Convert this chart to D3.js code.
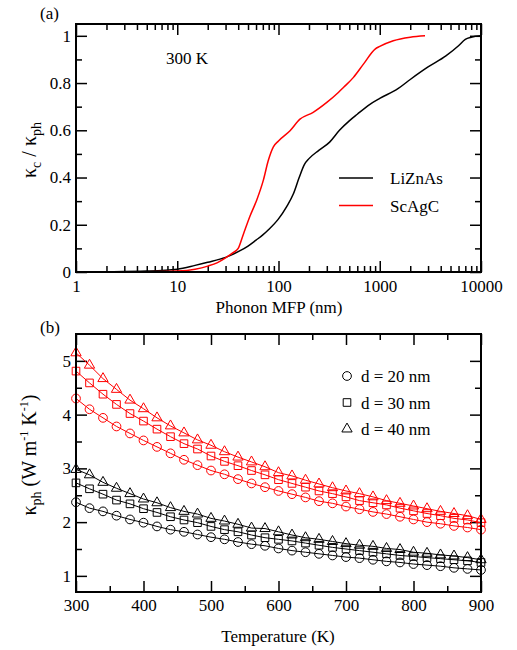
<!DOCTYPE html>
<html>
<head>
<meta charset="utf-8">
<script src="https://cdn.jsdelivr.net/npm/d3@7"></script>
<style>
  body { margin: 0; background: #fff; }
  svg text { font-family: "Liberation Serif", "Times New Roman", "DejaVu Serif", serif; fill: #000; }
</style>
</head>
<body>
<section></section>
<script>
// panel (a): cumulative kappa vs phonon MFP at 300 K
const mfpLi = [1, 2, 5, 10, 15, 20, 30, 40, 50, 60, 70, 80, 100, 120, 140, 160, 180, 200, 250, 320, 400, 500, 600, 800, 1000, 1500, 2000, 3000, 4500, 6000, 7000, 8000, 10000];
const kapLi = [0, 0.001, 0.004, 0.012, 0.028, 0.041, 0.062, 0.086, 0.11, 0.135, 0.157, 0.18, 0.225, 0.276, 0.33, 0.4, 0.455, 0.48, 0.515, 0.55, 0.6, 0.64, 0.668, 0.71, 0.735, 0.775, 0.815, 0.868, 0.915, 0.958, 0.985, 0.994, 1.0];
const mfpSc = [1, 5, 10, 15, 20, 25, 30, 35, 40, 45, 52, 61, 71, 79, 89, 100, 130, 163, 220, 300, 390, 440, 550, 690, 900, 1000, 1360, 2000, 2800];
const kapSc = [0, 0.001, 0.004, 0.012, 0.025, 0.04, 0.06, 0.08, 0.1, 0.16, 0.234, 0.305, 0.39, 0.47, 0.53, 0.555, 0.598, 0.647, 0.676, 0.718, 0.76, 0.782, 0.824, 0.88, 0.944, 0.955, 0.979, 0.994, 1.0];
const materials = ["LiZnAs", "ScAgC"];

// panel (b): kappa_ph vs temperature for three film thicknesses
const temps = d3.range(300, 901, 20);
const thick = ["d = 20 nm", "d = 30 nm", "d = 40 nm"];
const sc20 = [4.30, 4.10, 3.94, 3.78, 3.65, 3.52, 3.40, 3.28, 3.16, 3.06, 2.96, 2.89, 2.80, 2.72, 2.65, 2.58, 2.52, 2.46, 2.39, 2.35, 2.29, 2.24, 2.19, 2.15, 2.10, 2.05, 2.00, 1.97, 1.93, 1.90, 1.86];
const sc30 = [4.81, 4.59, 4.38, 4.19, 4.02, 3.88, 3.73, 3.59, 3.46, 3.36, 3.23, 3.13, 3.05, 2.96, 2.88, 2.79, 2.72, 2.65, 2.58, 2.53, 2.47, 2.40, 2.36, 2.32, 2.26, 2.21, 2.16, 2.12, 2.07, 2.04, 1.99];
const sc40 = [5.15, 4.92, 4.67, 4.47, 4.27, 4.11, 3.94, 3.79, 3.66, 3.53, 3.43, 3.31, 3.21, 3.12, 3.03, 2.92, 2.86, 2.78, 2.71, 2.64, 2.58, 2.53, 2.47, 2.40, 2.35, 2.30, 2.25, 2.20, 2.16, 2.12, 2.05];
const li20 = [2.37, 2.26, 2.20, 2.12, 2.05, 1.99, 1.92, 1.86, 1.82, 1.77, 1.72, 1.68, 1.63, 1.59, 1.56, 1.51, 1.47, 1.44, 1.41, 1.38, 1.35, 1.33, 1.30, 1.27, 1.25, 1.22, 1.20, 1.18, 1.15, 1.13, 1.11];
const li30 = [2.73, 2.62, 2.52, 2.41, 2.34, 2.25, 2.18, 2.10, 2.04, 1.99, 1.92, 1.86, 1.82, 1.76, 1.71, 1.68, 1.65, 1.61, 1.57, 1.53, 1.50, 1.47, 1.44, 1.41, 1.38, 1.36, 1.34, 1.32, 1.30, 1.28, 1.25];
const li40 = [2.98, 2.88, 2.74, 2.63, 2.53, 2.43, 2.36, 2.27, 2.20, 2.15, 2.07, 2.02, 1.96, 1.89, 1.88, 1.82, 1.76, 1.71, 1.68, 1.64, 1.60, 1.57, 1.55, 1.51, 1.49, 1.44, 1.42, 1.39, 1.37, 1.34, 1.30];

const W = 517, H = 650;
const left = 76, right = 481;
const serif = "'Liberation Serif', 'Times New Roman', serif";
const svg = d3.select("section").append("svg").attr("width", W).attr("height", H)
  .attr("font-family", serif);

const colors = { LiZnAs: "#000", ScAgC: "#ff0000" };

function frame(g, top, bottom) {
  g.append("rect")
    .attr("x", left).attr("y", top)
    .attr("width", right - left).attr("height", bottom - top)
    .attr("fill", "none").attr("stroke", "#000").attr("stroke-width", 2);
}

function styleAxis(sel) {
  sel.attr("font-family", serif).attr("font-size", 17);
  sel.select(".domain").remove();
  sel.selectAll(".tick line").attr("stroke", "#000").attr("stroke-width", 1.5);
}

// ---------- panel (a) ----------
const top1 = 24, bot1 = 272;
const xa = d3.scaleLog().domain([1, 10000]).range([left, right]);
const ya = d3.scaleLinear().domain([0, 1.05]).range([bot1, top1]);

const decades = [1, 10, 100, 1000, 10000];
const minorLog = [];
for (let k = 0; k < 4; k++) for (let m = 2; m <= 9; m++) minorLog.push(m * decades[k]);

const ga = svg.append("g");
ga.append("g").attr("transform", `translate(0,${bot1})`)
  .call(d3.axisBottom(xa).tickValues(decades).tickFormat(d3.format("d")).tickSize(-11).tickPadding(8))
  .call(styleAxis);
ga.append("g").attr("transform", `translate(0,${bot1})`)
  .call(d3.axisBottom(xa).tickValues(minorLog).tickFormat("").tickSize(-6))
  .call(styleAxis);
ga.append("g").attr("transform", `translate(0,${top1})`)
  .call(d3.axisTop(xa).tickValues(decades).tickFormat("").tickSize(-11))
  .call(styleAxis);
ga.append("g").attr("transform", `translate(0,${top1})`)
  .call(d3.axisTop(xa).tickValues(minorLog).tickFormat("").tickSize(-6))
  .call(styleAxis);
ga.append("g").attr("transform", `translate(${left},0)`)
  .call(d3.axisLeft(ya).tickValues([0, 0.2, 0.4, 0.6, 0.8, 1]).tickFormat(d3.format("")).tickSize(-11).tickPadding(5))
  .call(styleAxis);
ga.append("g").attr("transform", `translate(${left},0)`)
  .call(d3.axisLeft(ya).tickValues([0.1, 0.3, 0.5, 0.7, 0.9]).tickFormat("").tickSize(-6))
  .call(styleAxis);
ga.append("g").attr("transform", `translate(${right},0)`)
  .call(d3.axisRight(ya).tickValues([0, 0.2, 0.4, 0.6, 0.8, 1]).tickFormat("").tickSize(-11))
  .call(styleAxis);
ga.append("g").attr("transform", `translate(${right},0)`)
  .call(d3.axisRight(ya).tickValues([0.1, 0.3, 0.5, 0.7, 0.9]).tickFormat("").tickSize(-6))
  .call(styleAxis);

const lineA = d3.line().x(d => xa(d[0])).y(d => ya(d[1])).curve(d3.curveMonotoneX);
ga.append("path").datum(d3.zip(mfpLi, kapLi))
  .attr("d", lineA).attr("fill", "none").attr("stroke", colors.LiZnAs).attr("stroke-width", 1.5);
ga.append("path").datum(d3.zip(mfpSc, kapSc))
  .attr("d", lineA).attr("fill", "none").attr("stroke", colors.ScAgC).attr("stroke-width", 1.5);
frame(ga, top1, bot1);

ga.append("text").attr("x", 166).attr("y", 64).attr("font-size", 17).text("300 K");
ga.append("text").attr("x", 40).attr("y", 19).attr("font-size", 17).text("(a)");
ga.append("text").attr("x", 279).attr("y", 313).attr("text-anchor", "middle").attr("font-size", 17).text("Phonon MFP (nm)");

const ylabA = ga.append("text").attr("text-anchor", "middle").attr("font-size", 20)
  .attr("transform", "translate(36,150) rotate(-90)");
ylabA.append("tspan").text("\u03ba");
ylabA.append("tspan").attr("font-size", 14).attr("dy", 5).text("c");
ylabA.append("tspan").attr("dy", -5).text(" / \u03ba");
ylabA.append("tspan").attr("font-size", 14).attr("dy", 5).text("ph");

const legA = ga.selectAll(".legA").data(materials).enter().append("g")
  .attr("transform", (d, i) => `translate(339,${178 + i * 27.5})`);
legA.append("line").attr("x1", 0).attr("x2", 34).attr("stroke", d => colors[d]).attr("stroke-width", 1.5);
legA.append("text").attr("x", 51).attr("y", 6).attr("font-size", 17).text(d => d);

// ---------- panel (b) ----------
const top2 = 334, bot2 = 592;
const xb = d3.scaleLinear().domain([300, 900]).range([left, right]);
const yb = d3.scaleLinear().domain([0.7, 5.5]).range([bot2, top2]);

const gb = svg.append("g");
const xMaj = d3.range(300, 901, 100), xMin = d3.range(350, 900, 100);
const yMaj = [1, 2, 3, 4, 5], yMin = [1.5, 2.5, 3.5, 4.5];
gb.append("g").attr("transform", `translate(0,${bot2})`)
  .call(d3.axisBottom(xb).tickValues(xMaj).tickFormat(d3.format("d")).tickSize(-11).tickPadding(7))
  .call(styleAxis);
gb.append("g").attr("transform", `translate(0,${bot2})`)
  .call(d3.axisBottom(xb).tickValues(xMin).tickFormat("").tickSize(-6))
  .call(styleAxis);
gb.append("g").attr("transform", `translate(0,${top2})`)
  .call(d3.axisTop(xb).tickValues(xMaj).tickFormat("").tickSize(-11))
  .call(styleAxis);
gb.append("g").attr("transform", `translate(0,${top2})`)
  .call(d3.axisTop(xb).tickValues(xMin).tickFormat("").tickSize(-6))
  .call(styleAxis);
gb.append("g").attr("transform", `translate(${left},0)`)
  .call(d3.axisLeft(yb).tickValues(yMaj).tickFormat(d3.format("d")).tickSize(-11).tickPadding(5))
  .call(styleAxis);
gb.append("g").attr("transform", `translate(${left},0)`)
  .call(d3.axisLeft(yb).tickValues(yMin).tickFormat("").tickSize(-6))
  .call(styleAxis);
gb.append("g").attr("transform", `translate(${right},0)`)
  .call(d3.axisRight(yb).tickValues(yMaj).tickFormat("").tickSize(-11))
  .call(styleAxis);
gb.append("g").attr("transform", `translate(${right},0)`)
  .call(d3.axisRight(yb).tickValues(yMin).tickFormat("").tickSize(-6))
  .call(styleAxis);

const series = [
  { vals: li20, mat: "LiZnAs", sym: 0 },
  { vals: li30, mat: "LiZnAs", sym: 1 },
  { vals: li40, mat: "LiZnAs", sym: 2 },
  { vals: sc20, mat: "ScAgC", sym: 0 },
  { vals: sc30, mat: "ScAgC", sym: 1 },
  { vals: sc40, mat: "ScAgC", sym: 2 }
];
const symbols = [
  d3.symbol().type(d3.symbolCircle).size(60),
  d3.symbol().type(d3.symbolSquare).size(58),
  d3.symbol().type(d3.symbolTriangle).size(46)
];
const lineB = d3.line().x((d, i) => xb(temps[i])).y(d => yb(d));

series.forEach(s => {
  const g = gb.append("g");
  g.append("path").datum(s.vals).attr("d", lineB)
    .attr("fill", "none").attr("stroke", colors[s.mat]).attr("stroke-width", 1);
  g.selectAll("path.pt").data(s.vals).enter().append("path")
    .attr("class", "pt")
    .attr("d", symbols[s.sym])
    .attr("transform", (d, i) => `translate(${xb(temps[i])},${yb(d)})`)
    .attr("fill", "none").attr("stroke", colors[s.mat]).attr("stroke-width", 1);
});
frame(gb, top2, bot2);

gb.append("text").attr("x", 40).attr("y", 333).attr("font-size", 17).text("(b)");
gb.append("text").attr("x", 278).attr("y", 642).attr("text-anchor", "middle").attr("font-size", 17).text("Temperature (K)");

const ylabB = gb.append("text").attr("text-anchor", "middle").attr("font-size", 20)
  .attr("transform", "translate(36,455) rotate(-90)");
ylabB.append("tspan").text("\u03ba");
ylabB.append("tspan").attr("font-size", 14).attr("dy", 5).text("ph");
ylabB.append("tspan").attr("dy", -5).text(" (W m");
ylabB.append("tspan").attr("font-size", 12).attr("dy", -8).text("-1");
ylabB.append("tspan").attr("dy", 8).text(" K");
ylabB.append("tspan").attr("font-size", 12).attr("dy", -8).text("-1");
ylabB.append("tspan").attr("dy", 8).text(")");

const legB = gb.selectAll(".legB").data(thick).enter().append("g")
  .attr("transform", (d, i) => `translate(347,${376 + i * 26.5})`);
legB.append("path").attr("d", (d, i) => symbols[i]())
  .attr("fill", "none").attr("stroke", "#000").attr("stroke-width", 1);
legB.append("text").attr("x", 14).attr("y", 6).attr("font-size", 17).text(d => d);
</script>
</body>
</html>
